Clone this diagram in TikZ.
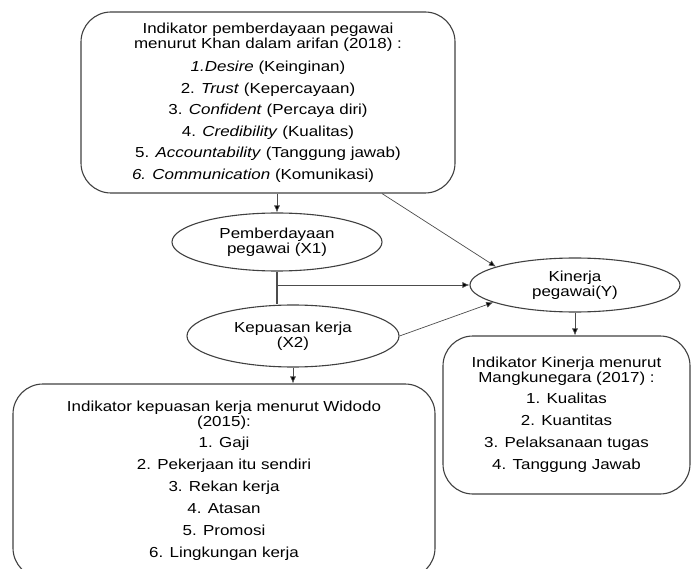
\documentclass[tikz,border=0pt]{standalone}
\usepackage{fontspec}
\setmainfont{Liberation Sans}[FakeStretch=1.17]
\usetikzlibrary{arrows.meta, shapes, positioning}

\begin{document}
\begin{tikzpicture}
[x=1pt, y=-1pt,
  every node/.style={draw=black!75, line width=1.1pt, inner sep=0pt, align=center,
    font=\fontsize{14.5}{15}\selectfont},
  indbox/.style={rounded corners=30pt},
  var/.style={ellipse},
  link/.style={draw=black!70, line width=0.7pt},
  >={Latex[length=7pt,width=6pt,fill=black]}]

\useasboundingbox (0,0) rectangle (693,569);

% indicator boxes
\node[indbox, minimum width=374pt, minimum height=181pt] (khan) at (268,102.5)
  {Indikator pemberdayaan pegawai\\
   menurut Khan dalam arifan (2018) :\\[8pt]
   \textit{1.Desire} (Keinginan)\\[6.5pt]
   2. \textit{Trust} (Kepercayaan)\\[6.5pt]
   3. \textit{Confident} (Percaya diri)\\[6.5pt]
   4. \textit{Credibility} (Kualitas)\\[6.5pt]
   5. \textit{Accountability} (Tanggung jawab)\\[6.5pt]
   \textit{6. Communication} (Komunikasi)\hspace*{30pt}};

\node[indbox, minimum width=422pt, minimum height=194pt] (widodo) at (224,481)
  {Indikator kepuasan kerja menurut Widodo\\
   (2015):\\[6pt]
   1. Gaji\\[7pt]
   2. Pekerjaan itu sendiri\\[7pt]
   3. Rekan kerja\\[7pt]
   4. Atasan\\[7pt]
   5. Promosi\\[7pt]
   6. Lingkungan kerja};

\node[indbox, minimum width=247pt, minimum height=158pt] (mangku) at (566.5,415)
  {Indikator Kinerja menurut\\
   Mangkunegara (2017) :\\[6pt]
   1. Kualitas\\[7pt]
   2. Kuantitas\\[7pt]
   3. Pelaksanaan tugas\\[7pt]
   4. Tanggung Jawab};

% variables
\node[var, minimum width=210pt, minimum height=58pt] (x1) at (277,242)
  {Pemberdayaan\\pegawai (X1)};
\node[var, minimum width=212pt, minimum height=62pt] (x2) at (293,336)
  {Kepuasan kerja\\(X2)};
\node[var, minimum width=210pt, minimum height=54pt] (kinerja) at (575,285)
  {Kinerja\\pegawai(Y)\hspace*{0pt}};

% connectors
\draw[->, link] (x1.north |- khan.south) -- (x1.north);
\draw[->, link] ([xshift=114pt]khan.south) -- (kinerja.167);
\draw[link, line width=1.1pt] (x1.south) -- (x1.south |- x2.north);
\draw[->, link] (x1.south |- kinerja.west) -- (kinerja.west);
\draw[->, link] (x2.east) -- (kinerja.192);
\draw[->, link] (kinerja.south) -- (kinerja.south |- mangku.north);
\draw[->, link] (x2.south) -- (x2.south |- widodo.north);

\end{tikzpicture}
\end{document}
